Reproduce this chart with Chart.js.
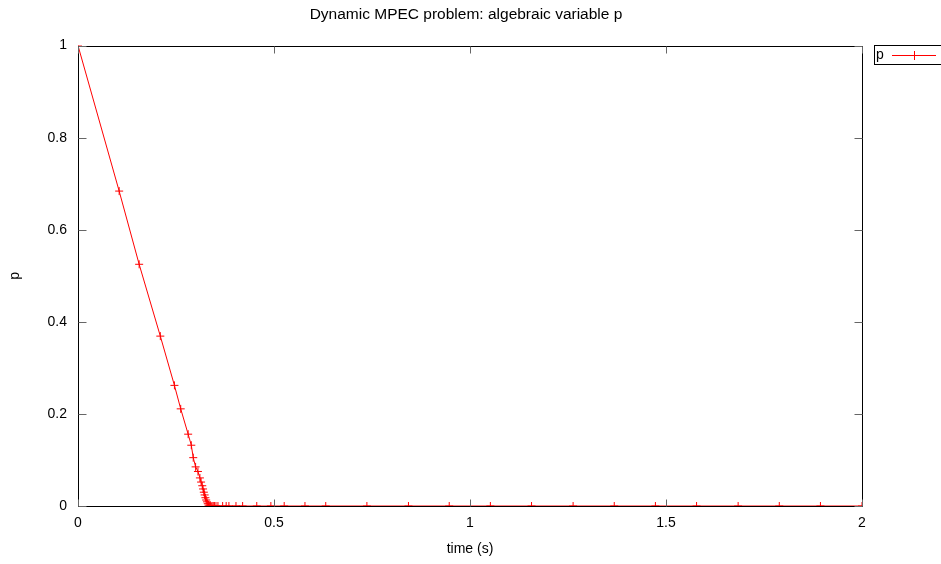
<!DOCTYPE html>
<html>
<head>
<meta charset="utf-8">
<script src="https://cdn.jsdelivr.net/npm/chart.js@4.4.1/dist/chart.umd.min.js"></script>
<style>
  html, body { margin: 0; padding: 0; background: #fff; }
  #wrap { width: 941px; height: 564px; }
</style>
</head>
<body>
<div id="wrap"><canvas id="chart"></canvas></div>
<script>
// values
const times = [
  0, 0.105, 0.156, 0.210, 0.246, 0.262, 0.281, 0.289, 0.294, 0.300, 0.306, 0.311,
  0.314, 0.317, 0.319, 0.321, 0.323, 0.325, 0.327, 0.329, 0.331, 0.333,
  0.335, 0.337, 0.339, 0.342, 0.345, 0.348, 0.352, 0.357, 0.369, 0.378, 0.385,
  0.403, 0.420, 0.456, 0.492, 0.526, 0.579, 0.632, 0.737, 0.843, 0.947, 1.052,
  1.157, 1.263, 1.368, 1.473, 1.578, 1.684, 1.789, 1.894, 2.0
];
const pValues = [
  1, 0.684, 0.525, 0.369, 0.262, 0.211, 0.156, 0.132, 0.105, 0.085, 0.075, 0.061,
  0.052, 0.044, 0.037, 0.030, 0.024, 0.018, 0.013, 0.009, 0.005, 0.002,
  0, 0, 0, 0, 0, 0, 0, 0, 0, 0, 0,
  0, 0, 0, 0, 0, 0, 0, 0, 0, 0, 0,
  0, 0, 0, 0, 0, 0, 0, 0, 0
];
const xTicks = [0, 0.5, 1, 1.5, 2];
const yTicks = [0, 0.2, 0.4, 0.6, 0.8, 1];

const FONT = 'Liberation Sans, Arial, sans-serif';
const RED = '#ff0000';

// gnuplot style border, inward mirrored ticks and a boxed legend
const gnuFrame = {
  id: 'gnuFrame',
  afterDatasetsDraw(chart) {
    const { ctx, chartArea: a, scales } = chart;
    const L = Math.round(a.left) + 0.5, R = Math.round(a.right) + 0.5;
    const T = Math.round(a.top) + 0.5, B = Math.round(a.bottom) + 0.5;
    ctx.save();
    ctx.strokeStyle = '#000';
    ctx.lineWidth = 1;
    ctx.strokeRect(L, T, R - L, B - T);

    ctx.strokeStyle = '#666';
    ctx.beginPath();
    xTicks.forEach(v => {
      const x = Math.round(scales.x.getPixelForValue(v)) + 0.5;
      ctx.moveTo(x, B); ctx.lineTo(x, B - 7);
      ctx.moveTo(x, T); ctx.lineTo(x, T + 7);
    });
    yTicks.forEach(v => {
      const y = Math.round(scales.y.getPixelForValue(v)) + 0.5;
      ctx.moveTo(L, y); ctx.lineTo(L + 8, y);
      ctx.moveTo(R, y); ctx.lineTo(R - 8, y);
    });
    ctx.stroke();

    // legend
    const ds = chart.data.datasets[0];
    const ly = 55;
    ctx.strokeStyle = '#000';
    ctx.strokeRect(874.5, 45.5, 80, 19);
    ctx.fillStyle = '#000';
    ctx.font = '14px ' + FONT;
    ctx.textBaseline = 'middle';
    ctx.textAlign = 'left';
    ctx.fillText(ds.label, 876, ly);
    ctx.strokeStyle = ds.borderColor;
    ctx.beginPath();
    ctx.moveTo(892, ly + 0.5); ctx.lineTo(936, ly + 0.5);
    ctx.moveTo(914.5, ly - 4); ctx.lineTo(914.5, ly + 5);
    ctx.moveTo(910, ly + 0.5); ctx.lineTo(919, ly + 0.5);
    ctx.stroke();
    ctx.restore();
  }
};

const points = times.map((t, i) => ({ x: t, y: pValues[i] }));
const fmt = v => String(Math.round(v * 10) / 10);

new Chart(document.getElementById('chart'), {
  type: 'line',
  data: {
    datasets: [{
      label: 'p',
      data: points,
      borderColor: RED,
      backgroundColor: RED,
      borderWidth: 1,
      pointStyle: 'cross',
      pointRadius: 4,
      pointBorderWidth: 1,
      pointBorderColor: RED,
      tension: 0,
      fill: false
    }]
  },
  options: {
    responsive: true,
    maintainAspectRatio: false,
    animation: false,
    layout: { padding: { left: 0, right: 9, top: 0, bottom: 0 } },
    plugins: {
      legend: { display: false },
      tooltip: { enabled: false },
      title: {
        display: true,
        text: 'Dynamic MPEC problem: algebraic variable p',
        color: '#000',
        font: { family: FONT, size: 15.5, weight: 'normal' },
        padding: { top: 5, bottom: 22 }
      }
    },
    scales: {
      x: {
        type: 'linear',
        min: 0,
        max: 2,
        afterFit(scale) { scale.height = 58; },
        afterBuildTicks(scale) { scale.ticks = xTicks.map(v => ({ value: v })); },
        grid: { display: false, drawTicks: false },
        border: { display: false },
        ticks: {
          color: '#000',
          padding: 9,
          font: { family: FONT, size: 14 },
          maxRotation: 0,
          callback: fmt
        },
        title: {
          display: true,
          text: 'time (s)',
          color: '#000',
          font: { family: FONT, size: 14 },
          padding: { top: 0, bottom: 6 }
        }
      },
      y: {
        type: 'linear',
        min: 0,
        max: 1,
        afterFit(scale) { scale.width = 78; },
        afterBuildTicks(scale) { scale.ticks = yTicks.map(v => ({ value: v })); },
        grid: { display: false, drawTicks: false },
        border: { display: false },
        ticks: {
          color: '#000',
          padding: 11,
          font: { family: FONT, size: 14 },
          callback: fmt
        },
        title: {
          display: true,
          text: 'p',
          color: '#000',
          font: { family: FONT, size: 14 },
          padding: { top: 7, bottom: 0 }
        }
      },
      // empty right axis that reserves the room used by the key
      y2: {
        type: 'linear',
        position: 'right',
        min: 0,
        max: 1,
        afterFit(scale) { scale.width = 70; },
        grid: { display: false, drawTicks: false },
        border: { display: false },
        ticks: { display: false }
      }
    }
  },
  plugins: [gnuFrame]
});
</script>
</body>
</html>
